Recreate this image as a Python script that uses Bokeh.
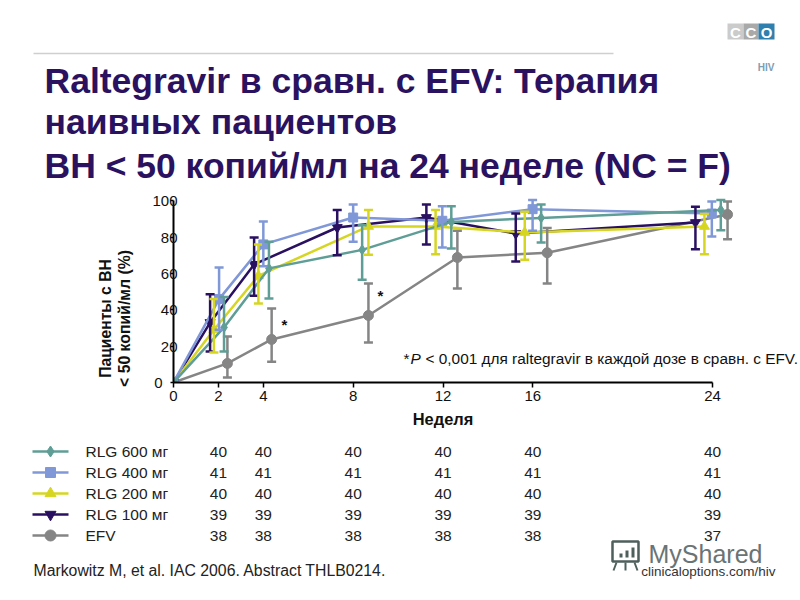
from bokeh.plotting import figure
from bokeh.models import (Range1d, LinearAxis, Label, Whisker, TeeHead, ColumnDataSource, FixedTicker)
from bokeh.layouts import column, row
from bokeh.core.properties import value
from bokeh.embed import file_html
from bokeh.resources import INLINE
import math

FONT = "Liberation Sans"
TITLE_LINES = ["Raltegravir в сравн. с EFV: Терапия", "наивных пациентов", "ВН < 50 копий/мл на 24 неделе (NC = F)"]
WEEK_TICKS = [0, 2, 4, 8, 12, 16, 24]
PCT_TICKS = [0, 20, 40, 60, 80, 100]
TABLE_WEEKS = [2, 4, 8, 12, 16, 24]

names = ["RLG 600 мг", "RLG 400 мг", "RLG 200 мг", "RLG 100 мг", "EFV"]
colors = ["#5f9e96", "#8098d8", "#d6d622", "#2a1060", "#858585"]
markers = ["diamond", "square", "triangle", "inverted_triangle", "circle"]
marker_sizes = [10, 9, 10, 10, 10]
counts = [[40, 40, 40, 40, 40, 40], [41, 41, 41, 41, 41, 41], [40, 40, 40, 40, 40, 40],
          [39, 39, 39, 39, 39, 39], [38, 38, 38, 38, 38, 37]]

# dodged x positions (weeks), values and error limits
x_600 = [0, 2.25, 4.25, 8.4, 12.37, 16.37, 24.37]
y_600 = [0, 30.3, 62.8, 73, 88.4, 90.6, 95]
up_600 = [0, 47, 77.4, 86.6, 97, 98, 100.4]
lo_600 = [0, 17, 46.2, 56.5, 73.8, 77, 83.8]

x_400 = [0, 2.03, 4, 8, 11.97, 15.99, 23.97]
y_400 = [0, 45.9, 76, 90.8, 89, 95.4, 93]
up_400 = [0, 63.3, 88.6, 98, 97, 100.4, 99.6]
lo_400 = [0, 29, 64, 77.4, 74.3, 83.5, 80.4]

x_200 = [0, 1.8, 3.78, 8.68, 11.67, 15.64, 23.64]
y_200 = [0, 29, 58.7, 85.9, 85.9, 82.6, 85.9]
up_200 = [0, 46, 76, 95, 95, 94, 92.7]
lo_200 = [0, 16.5, 43.5, 70.3, 70.6, 67.5, 70.6]

x_100 = [0, 1.63, 3.59, 7.29, 11.26, 15.24, 23.24]
y_100 = [0, 33, 65, 85.3, 90.8, 82, 88]
up_100 = [0, 48.6, 79.8, 95, 98, 93, 96.7]
lo_100 = [0, 17, 47.7, 70, 76, 66.6, 73.4]

x_efv = [0, 2.4, 4.37, 8.68, 12.64, 16.64, 24.67]
y_efv = [0, 10.5, 23.7, 36.9, 68.8, 71.4, 92.5]
up_efv = [0, 25.3, 40.7, 54.5, 83.5, 85, 99.6]
lo_efv = [0, 2.8, 11.4, 22, 51.7, 54.5, 78.9]

series = [(x_600, y_600, up_600, lo_600), (x_400, y_400, up_400, lo_400), (x_200, y_200, up_200, lo_200),
          (x_100, y_100, up_100, lo_100), (x_efv, y_efv, up_efv, lo_efv)]
draw_order = [4, 3, 2, 1, 0]

W = 800
AX_L = 173.0
PX_PER_WEEK = (712.0 - AX_L) / 24
STRIP_W = 140
CHART_TOP, CHART_BOT = 185, 404


def blank(h, top, width=W):
    f = figure(width=width, height=h, x_range=Range1d(0, width), y_range=Range1d(top + h, top),
               x_axis_type=None, y_axis_type=None, toolbar_location=None, frame_align=False,
               output_backend="svg", min_border=0, outline_line_color=None)
    f.grid.visible = False
    return f


# ---------- header ----------
top = blank(CHART_TOP, 0)
top.segment([33], [53], [613], [53], line_color="#cfcfcf", line_width=1.5)
for ln, yy in zip(TITLE_LINES, [80, 121, 165]):
    top.text([44], [yy], text=[ln], text_font=value(FONT), text_font_style="bold",
             text_font_size="35.5px", text_color="#2a1260", text_baseline="middle")
top.quad([727, 743, 758], [743, 758, 774], [23, 23, 23], [39, 39, 39],
         color=["#cbcbcb", "#a9a9a9", "#2f80ae"], line_color=None)
top.text([735, 750.5, 766], [31.5, 31.5, 31.5], text=["C", "C", "O"], text_font=value(FONT),
         text_font_style="bold", text_font_size="15px", text_color="white",
         text_align="center", text_baseline="middle")
top.text([774], [67], text=["HIV"], text_font=value(FONT), text_font_style="bold",
         text_font_size="10px", text_color="#7d9db3", text_align="right", text_baseline="middle")

# ---------- y-axis title strip ----------
strip = blank(CHART_BOT - CHART_TOP, CHART_TOP, STRIP_W)
for txt, xx, sz in [("Пациенты с ВН", 105, "15.7px"), ("< 50 копий/мл (%)", 124, "15.8px")]:
    strip.text([xx], [318], text=[txt], angle=[math.pi / 2], text_font=value(FONT), text_font_style="bold",
               text_font_size=sz, text_color="#111111", text_align="center", text_baseline="middle")

# ---------- chart ----------
FR_TOP, FR_BOT = 194.0, 382.0
PX_PER_PCT = 1.817
p = figure(width=W - STRIP_W, height=CHART_BOT - CHART_TOP,
           x_range=Range1d(0, (800 - AX_L) / PX_PER_WEEK),
           y_range=Range1d(0, (FR_BOT - FR_TOP) / PX_PER_PCT),
           x_axis_type=None, y_axis_type=None, toolbar_location=None, output_backend="svg", frame_align=False,
           min_border_left=int(AX_L) - STRIP_W, min_border_right=0, min_border_top=9,
           min_border_bottom=CHART_BOT - int(FR_BOT), outline_line_color=None)
p.grid.visible = False
xa = LinearAxis(ticker=FixedTicker(ticks=WEEK_TICKS), bounds=(0, 24))
ya = LinearAxis(ticker=FixedTicker(ticks=PCT_TICKS), bounds=(0, 100),
                major_label_overrides={0: "0\u2003"})
for ax in (xa, ya):
    ax.axis_line_color = "black"
    ax.axis_line_width = 2
    ax.major_tick_line_color = "black"
    ax.major_tick_line_width = 1.5
    ax.major_tick_in = 0
    ax.minor_tick_line_color = None
    ax.major_label_text_font = FONT
    ax.major_label_text_font_size = "15px"
    ax.major_label_text_color = "#111111"
xa.major_tick_out = 5
xa.major_label_standoff = 3
ya.major_tick_out = 3
ya.major_label_standoff = -7
p.add_layout(xa, "below")
p.add_layout(ya, "left")

for i in draw_order:
    xs, ys, ups, los = series[i]
    src = ColumnDataSource(dict(x=xs[1:], up=ups[1:], lo=los[1:]))
    p.add_layout(Whisker(source=src, base="x", upper="up", lower="lo", dimension="height", level="glyph",
                         line_color=colors[i], line_width=2.5,
                         upper_head=TeeHead(size=9, line_color=colors[i], line_width=2.5),
                         lower_head=TeeHead(size=9, line_color=colors[i], line_width=2.5)))
    p.line(xs, ys, line_color=colors[i], line_width=2.5)
    p.scatter(xs, ys, marker=markers[i], size=marker_sizes[i], color=colors[i])


def lab(text, rx, ry, size="15px", bold=False, italic=False, align="left", color="#111111"):
    style = "bold" if bold else ("italic" if italic else "normal")
    p.add_layout(Label(x=rx - STRIP_W, y=ry - CHART_TOP, x_units="canvas", y_units="canvas", text=text, level="overlay",
                       text_font=FONT, text_font_size=size, text_font_style=style,
                       text_align=align, text_baseline="middle", text_color=color))


lab("*", 281, 324, bold=True)
lab("*", 377, 295, bold=True)
lab("*", 403, 358, size="15.4px")
lab("P", 410, 358, size="15.4px", italic=True)
lab("< 0,001 для raltegravir в каждой дозе в сравн. с EFV.", 425, 358, size="15.4px")

# ---------- table ----------
bot = blank(600 - CHART_BOT, CHART_BOT)
bot.extra_x_ranges = {"weeks": Range1d(-AX_L / PX_PER_WEEK, (800 - AX_L) / PX_PER_WEEK)}
bot.text([12], [418], text=["Неделя"], x_range_name="weeks", text_font=value(FONT), text_font_style="bold",
         text_font_size="16.4px", text_color="#111111", text_align="center", text_baseline="middle")
rows_y = [451, 472, 493, 514, 535]
for i, yy in enumerate(rows_y):
    bot.segment([32], [yy], [68], [yy], line_color=colors[i], line_width=2.5)
    bot.scatter([50], [yy], marker=markers[i], size=marker_sizes[i] + 1, color=colors[i])
    bot.text([85], [yy], text=[names[i]], text_font=value(FONT), text_font_size="15.5px",
             text_color="#222222", text_baseline="middle")
    bot.text(TABLE_WEEKS, [yy] * 6, text=[str(c) for c in counts[i]], x_range_name="weeks",
             text_font=value(FONT), text_font_size="15.5px", text_color="#222222",
             text_align="center", text_baseline="middle")
# watermark
bot.text([648], [553], text=["MyShared"], text_font=value(FONT), text_font_size="25px",
         text_color="#6a7474", text_baseline="middle")
bot.quad([612], [638], [541], [561], fill_color=None, line_color="#4e5f5c", line_width=2.5)
bot.quad([619, 625, 631], [622, 628, 634], [553, 550, 547], [557, 557, 557], color="#4e5f5c", line_color=None)
bot.segment([616, 625, 634], [562, 562, 562], [613, 625, 637], [570, 570, 570], line_color="#4e5f5c", line_width=2)
bot.text([33], [570], text=["Markowitz M, et al. IAC 2006. Abstract THLB0214."], text_font=value(FONT),
         text_font_size="15.8px", text_color="#222222", text_baseline="middle")
bot.text([775], [571], text=["clinicaloptions.com/hiv"], text_font=value(FONT), text_font_size="13.5px",
         text_color="#333333", text_align="right", text_baseline="middle")

page = column(top, row(strip, p, spacing=0), bot, spacing=0)
open("out.html", "w").write(file_html(page, INLINE))
